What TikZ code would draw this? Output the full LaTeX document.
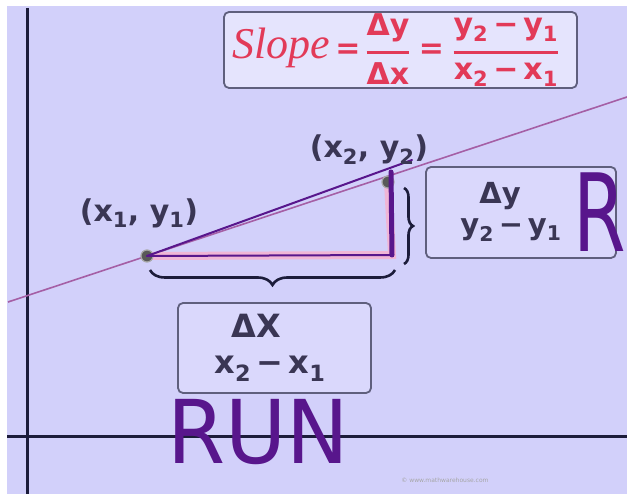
\documentclass[tikz,border=0pt]{standalone}
\usepackage{amsmath}
\usepackage{fontspec}
\setmainfont{Liberation Serif}
\setsansfont{DejaVu Sans}
\usepackage{tikz}
\usetikzlibrary{positioning, calc, decorations.pathreplacing}
\usepackage{xcolor}
\definecolor{bgcolor}{RGB}{210,208,250}
\definecolor{boxcolor}{RGB}{218,216,252}
\definecolor{framecolor}{RGB}{95,95,125}
\definecolor{axiscolor}{RGB}{28,28,58}
\definecolor{inkcolor}{RGB}{88,22,140}
\definecolor{slopecolor}{RGB}{226,58,88}
\definecolor{labelcolor}{RGB}{58,54,84}
\definecolor{linecolor}{RGB}{165,95,165}
\definecolor{trianglecolor}{RGB}{240,182,214}
\newcommand{\lowsub}[1]{\textsubscript{#1}}

\begin{document}
\begin{tikzpicture}[x=1pt, y=-1pt,
    tbox/.style={rectangle, draw=framecolor, line width=1.8pt, rounded corners=5pt, fill=boxcolor, align=center, inner sep=0pt},
    ptlabel/.style={font=\sffamily\bfseries\fontsize{30}{32}\selectfont, text=labelcolor},
    boxtext/.style={font=\sffamily\bfseries\fontsize{32}{34}\selectfont, text=labelcolor},
    hand/.style={font=\sffamily\fontsize{88}{88}\selectfont, text=inkcolor},
    axis/.style={draw=axiscolor, line width=3pt},
    ink/.style={draw=inkcolor, line width=2pt, line cap=round},
    dot/.style={circle, fill=black!65, draw=black!35, line width=1.2pt, minimum size=12pt, inner sep=0pt},
    bracepath/.style={draw=axiscolor, line width=2.6pt, decorate, decoration={brace, amplitude=#1}}
]
\useasboundingbox (0,0) rectangle (627,494);
\fill[white] (0,0) rectangle (627,494);
\fill[bgcolor] (7,6) rectangle (627,494);

% axes
\coordinate (ytop) at (27,8);
\coordinate (ybot) at (27,494);
\coordinate (xleft) at (7,437);
\coordinate (xright) at (627,437);
\draw[axis] (ytop) -- (ybot);
\draw[axis] (xleft) -- (xright);

% the line through both points
\coordinate (lstart) at (8,302);
\coordinate (lend) at (627,97);
\draw[linecolor, line width=1.6pt] (lstart) -- (lend);

% right triangle
\coordinate (p1) at (147,256);
\coordinate (p2) at (388,182);
\coordinate (corner) at (392,255);
\draw[trianglecolor, line width=8pt] (p1) -- (corner) -- (p2);
\node[dot] (dot1) at (p1) {};
\node[dot] (dot2) at (p2) {};

% handwriting
\coordinate (hypend) at (412,160);
\coordinate (vtop) at (391,172);
\draw[ink] (dot1.center) -- (hypend);
\draw[ink] (dot1.center) -- (corner);
\draw[ink, line width=5pt] (vtop) -- (corner);

\node[ptlabel] (p1label) at (139,213) {(x\lowsub{1}, y\lowsub{1})};
\node[ptlabel] (p2label) at (369,150) {(x\lowsub{2}, y\lowsub{2})};

% braces
\coordinate (vb1) at (404,188);
\coordinate (vb2) at (404,264);
\coordinate (hb1) at (395,270);
\coordinate (hb2) at (150,270);
\draw[bracepath=9pt] (vb1) -- (vb2);
\draw[bracepath=15pt] (hb1) -- (hb2);

% boxes
\node[tbox, minimum width=193pt, minimum height=90pt] (runbox) at (274.5,348) {};
\node[boxtext] (dx) at (256,326) {ΔX};
\node[boxtext] (dxval) at (270,369) {x\lowsub{2}\,−\,x\lowsub{1}};

\node[tbox, minimum width=190pt, minimum height=91pt] (risebox) at (521,212.5) {};
\node[boxtext, font=\sffamily\bfseries\fontsize{29}{30}\selectfont] (dy) at (500,196) {Δy};
\node[boxtext, font=\sffamily\bfseries\fontsize{29}{30}\selectfont] (dyval) at (511,230) {y\lowsub{2}\,−\,y\lowsub{1}};

\node[tbox, minimum width=353pt, minimum height=76pt, fill=boxcolor!70!white] (slopebox) at (400.5,50) {};
\node[text=slopecolor, font=\sffamily\bfseries\fontsize{30}{32}\selectfont, anchor=west] (formula) at (229,50)
  {{\rmfamily\mdseries\fontsize{44}{44}\selectfont\itshape Slope}\,=\,$\genfrac{}{}{3pt}{0}{\mbox{Δy}}{\mbox{Δx}}$\;=\;$\genfrac{}{}{3pt}{0}{\mbox{y\lowsub{2}\,−\,y\lowsub{1}}}{\mbox{x\lowsub{2}\,−\,x\lowsub{1}}}$};

\node[hand, xscale=0.95] (run) at (258,432) {RUN};
\node[hand, font=\sffamily\fontsize{108}{108}\selectfont, xscale=0.7] (rise) at (600,212) {R};

\node[text=black!35, font=\sffamily\fontsize{6}{6}\selectfont] (credit) at (445,480) {\textcopyright\ www.mathwarehouse.com};
\end{tikzpicture}
\end{document}
